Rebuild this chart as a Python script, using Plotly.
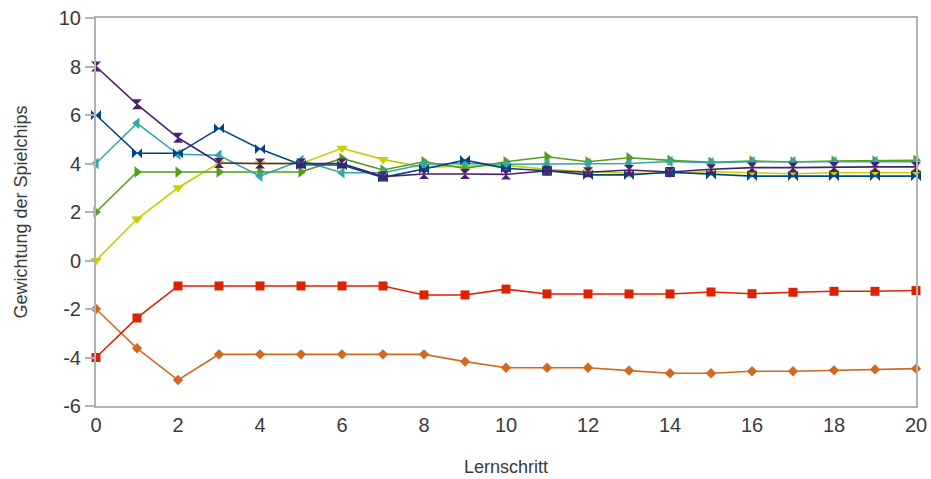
import plotly.graph_objects as go

steps = list(range(21))

red_sq = [-4, -2.37, -1.05, -1.05, -1.05, -1.05, -1.05, -1.05, -1.42, -1.42, -1.18,
          -1.38, -1.38, -1.38, -1.38, -1.30, -1.37, -1.31, -1.27, -1.27, -1.24]
orange_dia = [-2, -3.62, -4.93, -3.87, -3.87, -3.87, -3.87, -3.87, -3.87, -4.17, -4.42,
              -4.42, -4.42, -4.54, -4.65, -4.65, -4.57, -4.57, -4.53, -4.49, -4.46]
yellow_tri = [0, 1.71, 3.0, 4.02, 4.0, 4.0, 4.63, 4.17, 3.84, 3.9, 3.92,
              3.76, 3.66, 3.6, 3.6, 3.66, 3.62, 3.58, 3.62, 3.62, 3.62]
green_tri = [2, 3.65, 3.65, 3.65, 3.65, 3.65, 4.21, 3.73, 4.07, 3.80, 4.07,
             4.28, 4.07, 4.24, 4.13, 4.05, 4.1, 4.06, 4.1, 4.1, 4.13]
teal_tri = [4, 5.66, 4.38, 4.34, 3.48, 4.12, 3.62, 3.62, 3.97, 4.0, 3.97,
            3.97, 4.0, 4.0, 4.08, 4.03, 4.07, 4.07, 4.07, 4.07, 4.07]
blue_bow = [6, 4.42, 4.42, 5.45, 4.60, 3.95, 3.94, 3.43, 3.77, 4.14, 3.80,
            3.70, 3.53, 3.53, 3.64, 3.55, 3.48, 3.48, 3.48, 3.48, 3.48]
purple_hg = [8, 6.44, 5.06, 4.02, 4.0, 4.0, 4.0, 3.46, 3.57, 3.57, 3.55,
             3.70, 3.64, 3.73, 3.65, 3.76, 3.83, 3.83, 3.86, 3.86, 3.86]

x_ticks = list(range(0, 21, 2))
y_ticks = list(range(-6, 11, 2))

series = [
    (orange_dia, "#D2691F", "diamond", 8),
    (red_sq, "#DD2200", "square", 9),
    (yellow_tri, "#CCCC00", "triangle-down", 10),
    (green_tri, "#579D1C", "triangle-right", 10),
    (teal_tri, "#33A6A6", "triangle-left", 10),
    (blue_bow, "#004586", "bowtie", 10),
    (purple_hg, "#4B1F6F", "hourglass", 10),
]

fig = go.Figure()
for vals, col, sym, sz in series:
    fig.add_trace(go.Scatter(
        x=steps, y=vals, mode="lines+markers",
        line=dict(color=col, width=1.6),
        marker=dict(symbol=sym, size=sz, color=col, line=dict(width=0)),
        showlegend=False, cliponaxis=False,
    ))

fig.update_layout(
    width=931, height=479,
    margin=dict(l=96, r=15, t=18, b=73),
    paper_bgcolor="white", plot_bgcolor="white",
    font=dict(family="Liberation Sans, Arial, sans-serif", color="#3a3a3a", size=20),
    showlegend=False,
)
fig.update_xaxes(
    range=[0, 20], tickvals=x_ticks, ticktext=[str(v) for v in x_ticks],
    showgrid=False, zeroline=False, automargin=False,
    showline=True, linecolor="#b3b3b3", linewidth=2, mirror=True,
    ticks="", tickfont=dict(size=20),
    title=dict(text="Lernschritt", font=dict(size=18), standoff=25),
)
fig.update_yaxes(
    range=[-6, 10], tickvals=y_ticks, ticktext=[str(v) for v in y_ticks],
    showgrid=False, zeroline=False, automargin=False,
    showline=True, linecolor="#b3b3b3", linewidth=2, mirror=True,
    ticks="outside", ticklen=9, tickcolor="#b3b3b3", tickwidth=2,
    tickfont=dict(size=20),
    title=dict(text="Gewichtung der Spielchips", font=dict(size=18), standoff=26),
)

fig.write_html("out.html")
